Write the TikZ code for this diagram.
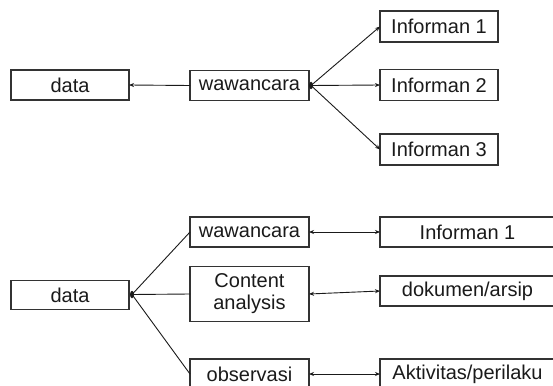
\documentclass[tikz,border=0pt]{standalone}
\usepackage{fontspec}
\setmainfont{Liberation Sans}
\usetikzlibrary{arrows.meta,shapes.geometric}
\definecolor{ink}{HTML}{1A1A1A}
\definecolor{edge}{HTML}{333333}
\begin{document}
\begin{tikzpicture}[x=1pt,y=-1pt,
  box/.style={draw=edge,line width=1.1pt,rectangle,inner sep=0pt,outer sep=0pt,
    text=ink,font=\fontsize{20}{22}\selectfont,align=center},
  conn/.style={draw=ink,line width=0.9pt},
  arr/.style={conn,-{Stealth[length=5pt,width=4pt]}},
  darr/.style={conn,{Stealth[length=5pt,width=4pt]}-{Stealth[length=5pt,width=4pt]}},
  hub/.style={fill=ink,ellipse,minimum width=4pt,minimum height=7.5pt,inner sep=0pt}]
\useasboundingbox (0,0) rectangle (553,385);
% top diagram
\node[box,minimum width=118pt,minimum height=30pt] (dataA) at (70,85) {data};
\node[box,minimum width=119pt,minimum height=30pt] (wawA) at (249.5,85.5) {wawancara};
\node[box,minimum width=118pt,minimum height=31pt] (infA) at (439,26.5) {Informan 1};
\node[box,minimum width=118pt,minimum height=31pt] (infB) at (439,85) {Informan 2};
\node[box,minimum width=118pt,minimum height=31pt] (infC) at (439,149.5) {Informan 3};
\coordinate (hubA) at (311,85.5);
\draw[arr] (wawA.west) -- (dataA.east);
\draw[arr] (hubA) -- (infA.west);
\draw[arr] (hubA) -- (infB.west);
\draw[arr] (hubA) -- (infC.west);
\node[hub] (dotA) at (hubA) {};
% bottom diagram
\node[box,minimum width=118pt,minimum height=29pt] (dataB) at (70,295) {data};
\node[box,minimum width=119pt,minimum height=30pt] (wawB) at (249.5,232) {wawancara};
\node[box,minimum width=119pt,minimum height=55pt] (cont) at (249.5,294) {Content\\analysis};
\node[box,minimum width=119pt,minimum height=30pt] (obs) at (249.5,374) {observasi};
\node[box,minimum width=175pt,minimum height=30pt] (infD) at (467.5,232) {Informan 1};
\node[box,minimum width=175pt,minimum height=30pt] (dok) at (467.5,291) {dokumen/arsip};
\node[box,minimum width=175pt,minimum height=30pt] (akt) at (467.5,374) {Aktivitas/perilaku};
\coordinate (hubB) at (132,294.5);
\draw[conn] (hubB) -- (wawB.west);
\draw[conn] (hubB) -- (cont.west);
\draw[conn] (hubB) -- (obs.west);
\node[hub] (dotB) at (hubB) {};
\draw[darr] (wawB.east) -- (infD.west);
\draw[darr] (cont.east) -- (dok.west);
\draw[darr] (obs.east) -- (akt.west);
\end{tikzpicture}
\end{document}
